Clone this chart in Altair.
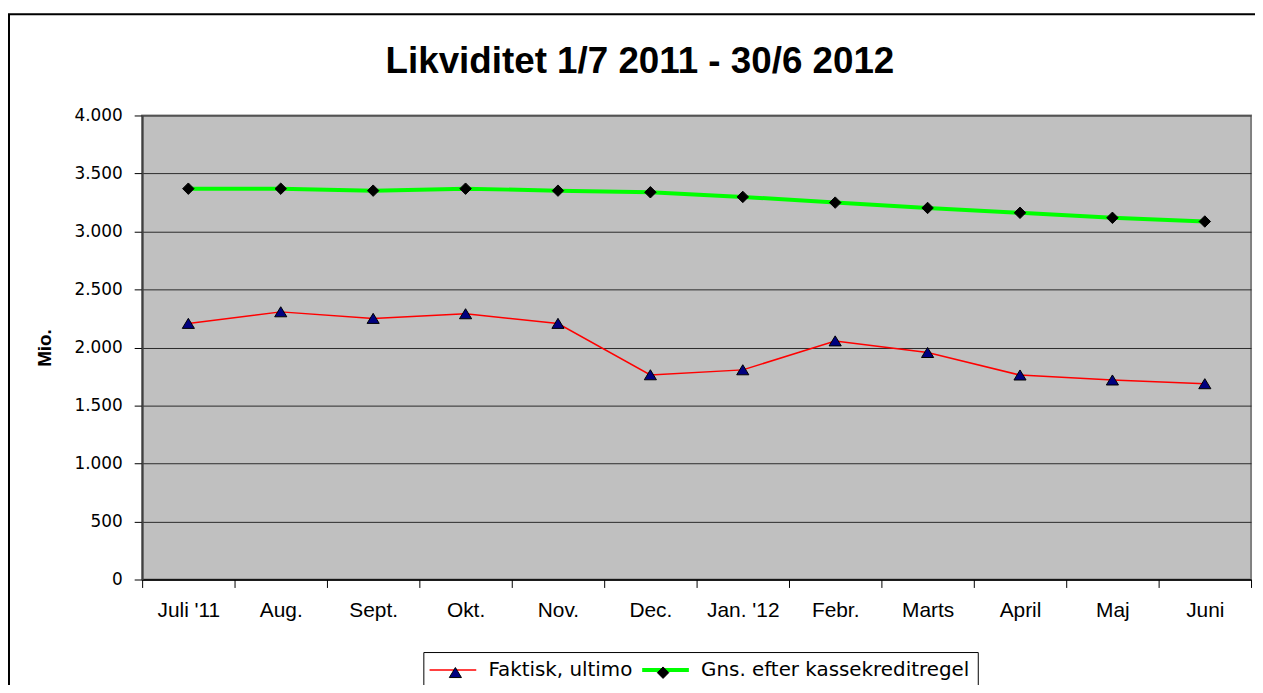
import altair as alt
import pandas as pd

months = ["Juli '11", "Aug.", "Sept.", "Okt.", "Nov.", "Dec.",
          "Jan. '12", "Febr.", "Marts", "April", "Maj", "Juni"]
faktisk = [2207, 2307, 2250, 2290, 2207, 1764, 1807, 2056, 1956, 1762, 1719, 1687]
gns = [3369, 3369, 3352, 3369, 3352, 3338, 3298, 3249, 3203, 3161, 3118, 3086]
series_names = ["Faktisk, ultimo", "Gns. efter kassekreditregel"]
y_ticks = [0, 500, 1000, 1500, 2000, 2500, 3000, 3500, 4000]
title_text = "Likviditet 1/7 2011 - 30/6 2012"
y_title = "Mio."

line_colors = ["#FF0000", "#00FF00"]
line_widths = [1.5, 4]
marker_fills = ["#000080", "#000000"]
tri = "M0,-0.44L0.52,0.42L-0.52,0.42Z"
dia = "M0,-0.49L0.49,0L0,0.49L-0.49,0Z"
leg_line = "M-2,0L2,0"

rows = []
for s, vals in zip(series_names, [faktisk, gns]):
    for m, v in zip(months, vals):
        rows.append({"month": m, "series": s, "series2": s, "value": v})
df = pd.DataFrame(rows)

W, H = 1116, 467
SYM = 552
LX, LY = 283, 540

x_enc = alt.X(
    "month:N", sort=months,
    scale=alt.Scale(type="band", paddingInner=0, paddingOuter=0),
    axis=alt.Axis(title=None, tickBand="extent", tickSize=8, tickColor="black",
                  domainColor="black", domainWidth=1.5, labelFont="Liberation Sans",
                  labelFontSize=21, labelColor="black", labelPadding=12,
                  labelAngle=0, grid=False),
)
y_enc = alt.Y(
    "value:Q", scale=alt.Scale(domain=[0, 4000], nice=False),
    axis=alt.Axis(values=y_ticks, title=y_title, titleFont="Liberation Sans",
                  titleFontSize=19, titleFontWeight="bold", titleColor="black",
                  titleAngle=-90, titleX=-98, titleY=H / 2, titleAlign="center",
                  titleBaseline="middle",
                  labelFont="DejaVu Sans", labelFontSize=17, labelColor="black",
                  labelPadding=12, tickSize=8, tickColor="black",
                  domainColor="#404040", domainWidth=2,
                  grid=True, gridColor="#2a2a2a", gridWidth=1,
                  labelExpr="replace(format(datum.value, ','), ',', '.')"),
)

width_expr = "datum.value === '%s' ? %s : %s" % (series_names[1], line_widths[1], line_widths[0])
fill_expr = "datum.value === '%s' ? '%s' : '%s'" % (series_names[0], marker_fills[0], marker_fills[1])

common = dict(title=None, orient="none", legendX=LX, legendY=LY, direction="horizontal",
              symbolSize=SYM, symbolOffset=11.75, labelFont="DejaVu Sans",
              labelFontSize=20, labelOffset=25.75, columnPadding=1,
              padding=8, labelLimit=500)
legA = dict(common, symbolType=leg_line, labelColor="black",
            strokeColor="black", fillColor="white",
            symbolStrokeWidth=alt.ExprRef(width_expr))
legB = dict(common, labelColor="rgba(0,0,0,0)", strokeColor="rgba(0,0,0,0)",
            symbolStrokeColor="black", symbolStrokeWidth=1,
            symbolFillColor=alt.ExprRef(fill_expr))

lines = alt.Chart(df).mark_line().encode(
    x=x_enc, y=y_enc,
    color=alt.Color("series:N", scale=alt.Scale(range=line_colors), legend=alt.Legend(**legA)),
    strokeWidth=alt.StrokeWidth("series:N", scale=alt.Scale(type="ordinal", range=line_widths),
                                legend=None),
)

points = alt.Chart(df).mark_point(filled=True, size=SYM, stroke="black", strokeWidth=1,
                                  opacity=1).encode(
    x=x_enc, y=y_enc,
    shape=alt.Shape("series2:N", scale=alt.Scale(range=[tri, dia]), legend=alt.Legend(**legB)),
    fill=alt.Fill("series2:N", scale=alt.Scale(range=marker_fills), legend=None),
)

frame = alt.Chart(alt.Data(values=[{}])).mark_rect(
    fillOpacity=0, stroke="black", strokeWidth=2, clip=False
).encode(
    x=alt.value(-134), x2=alt.value(W + 20), y=alt.value(-102), y2=alt.value(H + 150)
)

chart = alt.layer(frame, lines, points).properties(
    width=W, height=H,
    title=alt.TitleParams(title_text, font="Liberation Sans", fontSize=37, fontWeight="bold",
                          color="black", anchor="middle", frame="group", dx=-57,
                          offset=0, dy=97, baseline="alphabetic"),
    autosize=alt.AutoSizeParams(type="none"),
    padding={"left": 135, "top": 106, "right": 4, "bottom": 104},
    background="white",
).resolve_legend(
    color="independent", shape="independent"
).configure_view(
    fill="#C0C0C0", stroke="#808080", strokeWidth=2
)

chart.save("out.html", embed_options={"renderer": "svg", "actions": False})
